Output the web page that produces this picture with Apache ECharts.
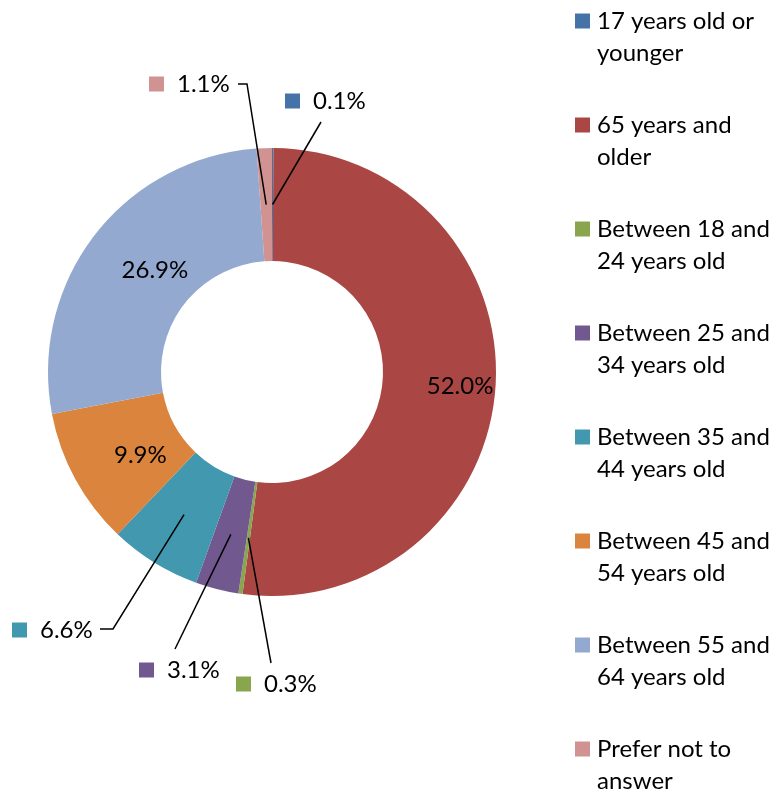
<!DOCTYPE html>
<html>
<head>
<meta charset="utf-8">
<script src="https://cdn.jsdelivr.net/npm/echarts@6/dist/echarts.min.js"></script>
<style>
  html, body { margin: 0; padding: 0; background: #fff; }
  #chart { width: 777px; height: 794px; }
</style>
</head>
<body>
<div id="chart"></div>
<script>
// age groups, in the order they run round the ring
var categories = [
  '17 years old or\nyounger',
  '65 years and\nolder',
  'Between 18 and\n24 years old',
  'Between 25 and\n34 years old',
  'Between 35 and\n44 years old',
  'Between 45 and\n54 years old',
  'Between 55 and\n64 years old',
  'Prefer not to\nanswer'
]
var shares = [0.1, 52.0, 0.3, 3.1, 6.6, 9.9, 26.9, 1.1]
var insideLabels = [1, 5, 6]

var colors = ['#4572A7', '#AA4643', '#89A54E', '#71588F', '#4198AF', '#DB843D', '#93A9CF', '#D19392']
var font = 'Lato, "Open Sans", sans-serif'
var cx = 272
var cy = 372
var rIn = 111
var rOut = 224

// where the outside labels sit: [left, middle y, bend x, bend y, end x, end y]
var outsideSpots = {
  0: [285, 101, 321, 122, 321, 122],
  2: [236, 684, 271, 663, 271, 663],
  3: [139, 670, 175, 649, 175, 649],
  4: [12, 630, 113, 629, 100, 629],
  7: [149, 84, 247, 84, 238, 84]
}

var total = shares.reduce(function (a, b) { return a + b }, 0)
var cum = []
var run = 0
for (var i = 0; i < shares.length; i++) {
  cum.push(run)
  run += shares[i]
}

// leader lines start half way across the ring, at the slice's middle angle
function midPoint (idx) {
  var f = (cum[idx] + shares[idx] / 2) / total
  var t = f * Math.PI * 2
  var r = (rIn + rOut) / 2
  return [cx + r * Math.sin(t), cy - r * Math.cos(t)]
}

var rich = {
  v: { fontSize: 24, fontFamily: font, color: '#000' },
  g: { width: 13 }
}
var legendRich = {
  t: { fontSize: 24, lineHeight: 32, fontFamily: font, color: '#000' },
  g: { width: 7 },
  s: { width: 22 }
}
for (var k = 0; k < colors.length; k++) {
  rich['m' + k] = { width: 15, height: 15, backgroundColor: colors[k] }
  legendRich['m' + k] = { width: 15, height: 15, backgroundColor: colors[k] }
}

var ringData = shares.map(function (v, idx) {
  return { name: categories[idx], value: v, itemStyle: { color: colors[idx] } }
})

// same slices again, see-through, only to carry labels and leader lines above the ring
var labelData = shares.map(function (v, idx) {
  var inside = insideLabels.indexOf(idx) >= 0
  return {
    name: categories[idx],
    value: v,
    label: { position: inside ? 'inside' : 'outside' },
    labelLine: { show: !inside }
  }
})

var chart = echarts.init(document.getElementById('chart'))
chart.setOption({
  animation: false,
  backgroundColor: '#fff',
  legend: {
    orient: 'vertical',
    left: 570,
    top: 9,
    padding: 0,
    height: 785,
    itemGap: 48,
    icon: 'none',
    itemWidth: 0,
    itemHeight: 0,
    selectedMode: false,
    data: categories,
    formatter: function (name) {
      var i = categories.indexOf(name)
      var parts = name.split('\n')
      return '{m' + i + '|}{g|}{t|' + parts[0] + '}\n{s|}{t|' + parts[1] + '}'
    },
    textStyle: { rich: legendRich }
  },
  series: [
    {
      type: 'pie',
      center: [cx, cy],
      radius: [rIn, rOut],
      startAngle: 90,
      clockwise: true,
      silent: true,
      itemStyle: { borderWidth: 0 },
      label: { show: false },
      labelLine: { show: false },
      emphasis: { disabled: true },
      data: ringData
    },
    {
      type: 'pie',
      z: 5,
      center: [cx, cy],
      radius: [rIn, rOut],
      startAngle: 90,
      clockwise: true,
      silent: true,
      avoidLabelOverlap: false,
      itemStyle: { color: 'rgba(0,0,0,0)', borderWidth: 0 },
      label: {
        show: true,
        color: '#000',
        formatter: function (p) {
          var txt = p.value.toFixed(1) + '%'
          if (insideLabels.indexOf(p.dataIndex) >= 0) return '{v|' + txt + '}'
          return '{m' + p.dataIndex + '|}{g|}{v|' + txt + '}'
        },
        rich: rich
      },
      labelLine: {
        show: true,
        showAbove: true,
        lineStyle: { color: '#000', width: 1.5 }
      },
      labelLayout: function (params) {
        var idx = params.dataIndex
        var spot = outsideSpots[idx]
        if (!spot) return { dx: 18, dy: 2 }
        return {
          x: spot[0],
          y: spot[1],
          align: 'left',
          verticalAlign: 'middle',
          labelLinePoints: [midPoint(idx), [spot[2], spot[3]], [spot[4], spot[5]]]
        }
      },
      emphasis: { disabled: true },
      data: labelData
    }
  ]
})
</script>
</body>
</html>
